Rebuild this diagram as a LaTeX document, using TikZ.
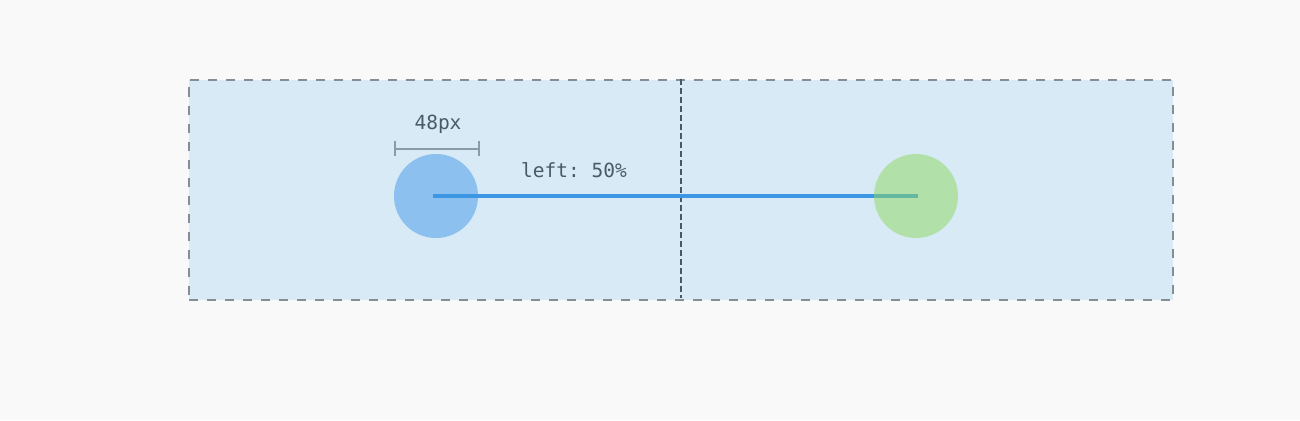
\documentclass[tikz,border=0pt]{standalone}
\usepackage{fontspec}
\setmonofont{DejaVu Sans Mono}
\definecolor{bgc}{HTML}{F9F9F9}
\definecolor{boxfill}{HTML}{D7EAF6}
\definecolor{boxline}{HTML}{858E94}
\definecolor{midline}{HTML}{455A64}
\definecolor{bluec}{HTML}{8CC1EF}
\definecolor{linec}{HTML}{3B97E3}
\definecolor{greenc}{HTML}{8DDA5C}
\definecolor{dimc}{HTML}{8A9BA8}
\definecolor{txtc}{HTML}{4A5A66}
\tikzset{
  outerbox/.style={draw=boxline, line width=2pt, dash pattern=on 9pt off 9pt, fill=boxfill},
  midsep/.style={draw=midline, line width=1.5pt, dash pattern=on 6pt off 3pt},
  dot/.style={circle, minimum size=84pt, inner sep=0pt, draw=none},
  label/.style={font=\fontsize{19.5}{22}\selectfont\ttfamily, text=txtc, inner sep=0pt},
  dimline/.style={draw=dimc, line width=2pt},
}
\begin{document}
\begin{tikzpicture}[x=1pt,y=-1pt]
\path[fill=bgc] (0,0) rectangle (1300,420);
\useasboundingbox (0,0) rectangle (1300,420);
\node[outerbox, minimum width=984pt, minimum height=220pt, inner sep=0pt, anchor=north west] (box) at (188,78.5) {};
\coordinate (midtop) at (681,79);
\coordinate (midbot) at (681,298);
\draw[midsep] (midtop) -- (midbot);
\node[dot, fill=bluec] (blue) at (436,196) {};
\coordinate (lstart) at (433,195.5);
\coordinate (lend) at (918,195.5);
\draw[linec, line width=4pt] (lstart) -- (lend);
\node[dot, fill=greenc, fill opacity=0.5] (green) at (916,196) {};
% dimension bracket
\coordinate (dl) at (395,149);
\coordinate (dr) at (479,149);
\draw[dimline] (dl) -- (dr);
\draw[dimline] ([yshift=-7pt]dl) -- ([yshift=8pt]dl);
\draw[dimline] ([yshift=-7pt]dr) -- ([yshift=8pt]dr);
\node[label] (dimtxt) at (438,124) {48px};
\node[label] (lefttxt) at (574,170) {left: 50\%};
\end{tikzpicture}
\end{document}
